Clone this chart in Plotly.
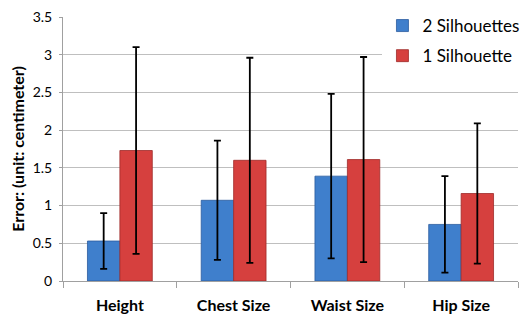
import plotly.graph_objects as go

categories = ["Height", "Chest Size", "Waist Size", "Hip Size"]
two_sil = [0.53, 1.07, 1.39, 0.75]
two_sil_err = [0.37, 0.79, 1.09, 0.64]
one_sil = [1.73, 1.60, 1.61, 1.16]
one_sil_err = [1.37, 1.36, 1.36, 0.93]
y_ticks = [0, 0.5, 1, 1.5, 2, 2.5, 3, 3.5]
y_tick_labels = ["0", "0.5", "1", "1.5", "2", "2.5", "3", "3.5"]

FONT = "Lato"

fig = go.Figure()
fig.add_trace(go.Bar(
    x=categories, y=two_sil, name="2 Silhouettes", legendgroup="a",
    marker=dict(color="#3F7FCC", line=dict(color="#2B5C9E", width=0.8)),
    error_y=dict(type="data", array=two_sil_err, color="black", thickness=1.8, width=3.5),
))
fig.add_trace(go.Bar(
    x=categories, y=one_sil, name="1 Silhouette", legendgroup="b",
    marker=dict(color="#D6403E", line=dict(color="#9E2B29", width=0.8)),
    error_y=dict(type="data", array=one_sil_err, color="black", thickness=1.8, width=3.5),
))

# page body has an 8px default margin, so the figure is sized to fit the window
fig.update_layout(
    width=523, height=312,
    margin=dict(l=55, r=13, t=9, b=39, autoexpand=False),
    paper_bgcolor="white", plot_bgcolor="white",
    barmode="group", bargap=0.43, bargroupgap=0,
    font=dict(family=FONT, size=14, color="black"),
    showlegend=True,
    legend=dict(
        xref="container", yref="container",
        x=0.716, y=1.013, xanchor="left", yanchor="top",
        bgcolor="white", borderwidth=0,
        font=dict(family=FONT, size=17, color="black"),
        traceorder="grouped", tracegroupgap=5, itemwidth=30,
    ),
    xaxis=dict(
        automargin=False,
        showline=True, linecolor="#A0A0A0", linewidth=1,
        ticks="outside", tickson="boundaries", ticklen=6, tickcolor="#A0A0A0",
        ticklabelstandoff=10,
        tickfont=dict(family=FONT, size=16, color="black", weight="bold"),
        showgrid=False,
    ),
    yaxis=dict(
        automargin=False,
        range=[0, 3.5], tickvals=y_ticks, ticktext=y_tick_labels,
        ticklabeloverflow="allow",
        showline=True, linecolor="#A0A0A0", linewidth=1,
        ticks="outside", ticklen=3, tickcolor="#A0A0A0",
        ticklabelstandoff=4,
        showgrid=True, gridcolor="#BFBFBF", gridwidth=1,
        zeroline=False,
        tickfont=dict(family=FONT, size=14, color="black"),
        title=dict(text="Error: (unit: centimeter)", standoff=4,
                   font=dict(family=FONT, size=16, color="black", weight="bold")),
    ),
)

fig.write_html("out.html")
